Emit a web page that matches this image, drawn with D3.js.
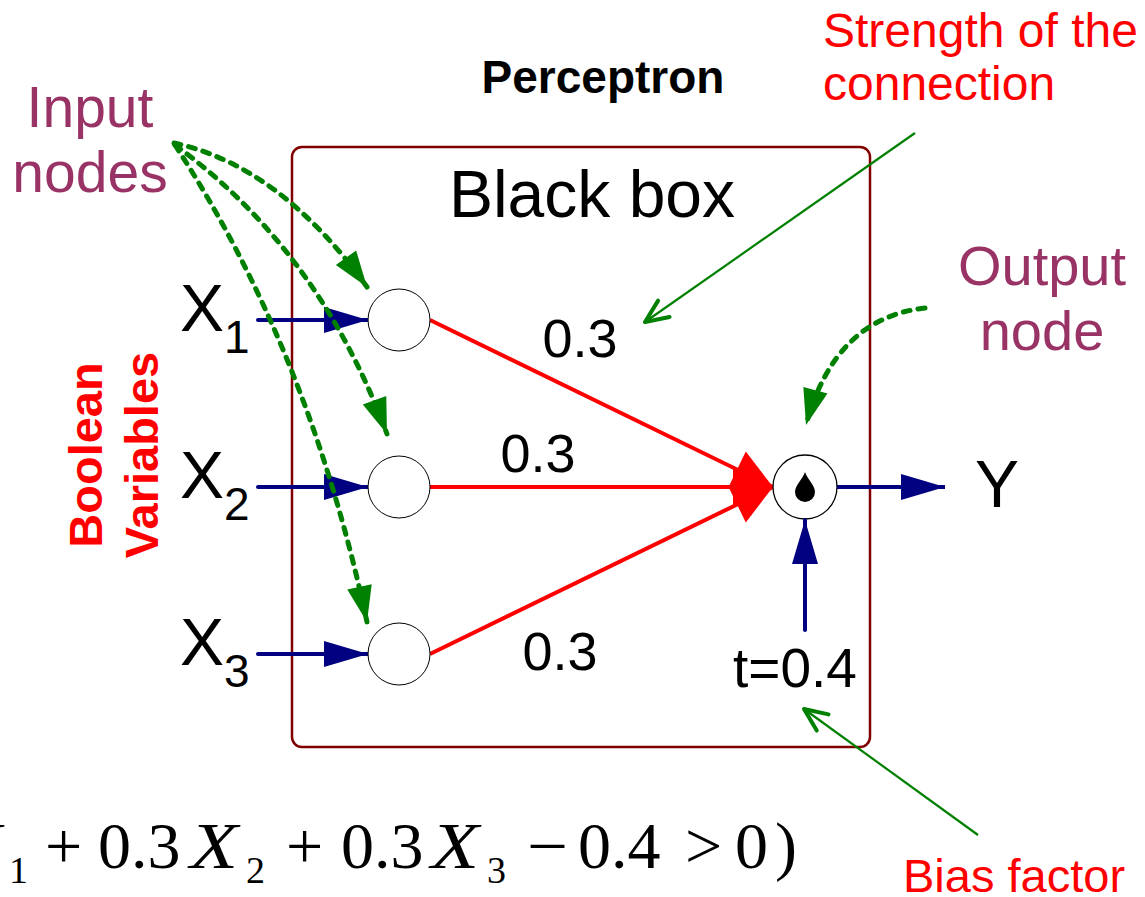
<!DOCTYPE html>
<html>
<head>
<meta charset="utf-8">
<script src="https://cdn.jsdelivr.net/npm/d3@7.9.0/dist/d3.min.js"></script>
<style>
  body { margin: 0; background: #fff; }
  svg { display: block; font-family: "Liberation Sans", Arial, sans-serif; }
</style>
</head>
<body>
<div id="chart"></div>
<script>
// diagram values
const inputs = ['X1', 'X2', 'X3'];
const weights = [0.3, 0.3, 0.3];
const threshold = 0.4;
const outputName = 'Y';
const formulaTokens = [
  { text: 'Y = I(0.3', kind: 'tail' },
  { text: 'X', kind: 'var' }, { text: '1', kind: 'sub' },
  { text: '+', kind: 'op' }, { text: '0.3', kind: 'num' },
  { text: 'X', kind: 'var' }, { text: '2', kind: 'sub' },
  { text: '+', kind: 'op' }, { text: '0.3', kind: 'num' },
  { text: 'X', kind: 'var' }, { text: '3', kind: 'sub' },
  { text: '\u2212', kind: 'minus' }, { text: '0.4', kind: 'num' },
  { text: '>', kind: 'op' }, { text: '0', kind: 'num' }, { text: ')', kind: 'num' }
];

const width = 1145;
const height = 897;

const svg = d3.select('#chart')
  .append('svg')
  .attr('width', width)
  .attr('height', height)
  .attr('viewBox', `0 0 ${width} ${height}`);

// layout
const y = d3.scalePoint().domain(inputs).range([320, 654]);
const inX = 399, nodeR = 31;
const outX = 805, outY = y(inputs[1]), outR = 32;
const box = { x: 292, y: 147, w: 578, h: 600 };

const navy = '#000080', red = '#ff0000', green = '#008000', plum = '#993366';

// markers
const defs = svg.append('defs');
function marker(id, d, refX, fill, stroke) {
  const m = defs.append('marker')
    .attr('id', id)
    .attr('markerUnits', 'userSpaceOnUse')
    .attr('orient', 'auto')
    .attr('refX', refX).attr('refY', 0)
    .attr('markerWidth', 1).attr('markerHeight', 1)
    .style('overflow', 'visible');
  m.append('path').attr('d', d)
    .attr('fill', fill)
    .attr('stroke', stroke || 'none')
    .attr('stroke-width', stroke ? 4 : 0)
    .attr('stroke-linecap', 'round')
    .attr('stroke-linejoin', 'round');
}
marker('navyHead', 'M0,-13L44,0L0,13Z', 44, navy);
marker('redHead', 'M0,-20L40,0L0,20Z', 40, red);
marker('greenHead', 'M0,-12.5L36,0L0,12.5Z', 36, green);
marker('greenOpen', 'M-23,-10L0,0L-23,10', 0, 'none', green);

// black box
svg.append('rect')
  .attr('x', box.x).attr('y', box.y)
  .attr('width', box.w).attr('height', box.h)
  .attr('rx', 10)
  .attr('fill', 'none')
  .attr('stroke', '#800000')
  .attr('stroke-width', 2.5);

svg.append('text').attr('x', 603).attr('y', 93)
  .attr('text-anchor', 'middle').attr('font-size', 46).attr('font-weight', 'bold')
  .text('Perceptron');
svg.append('text').attr('x', 592).attr('y', 217)
  .attr('text-anchor', 'middle').attr('font-size', 66)
  .text('Black box');

// weighted connections
const wLabel = [
  { dx: 181, dy: 37 },
  { dx: 139, dy: -15 },
  { dx: 161, dy: 16 }
];
svg.append('g').selectAll('line')
  .data(inputs)
  .join('line')
  .attr('x1', inX + nodeR)
  .attr('y1', d => y(d))
  .attr('x2', outX - outR)
  .attr('y2', outY)
  .attr('stroke', red)
  .attr('stroke-width', 4)
  .attr('marker-end', 'url(#redHead)');

svg.append('g').selectAll('text')
  .data(weights)
  .join('text')
  .attr('x', (d, i) => inX + wLabel[i].dx)
  .attr('y', (d, i) => y(inputs[i]) + wLabel[i].dy)
  .attr('text-anchor', 'middle')
  .attr('font-size', 54)
  .text(d => d.toFixed(1));

// input arrows and nodes
svg.append('g').selectAll('line')
  .data(inputs)
  .join('line')
  .attr('x1', 258).attr('x2', inX - nodeR)
  .attr('y1', d => y(d)).attr('y2', d => y(d))
  .attr('stroke', navy).attr('stroke-width', 4)
  .attr('stroke-linecap', 'round')
  .attr('marker-end', 'url(#navyHead)');

svg.append('g').selectAll('circle')
  .data(inputs)
  .join('circle')
  .attr('cx', inX).attr('cy', d => y(d)).attr('r', nodeR)
  .attr('fill', '#fff').attr('stroke', '#000').attr('stroke-width', 1);

const xl = svg.append('g').selectAll('text')
  .data(inputs)
  .join('text')
  .attr('x', 180)
  .attr('y', d => y(d) + 11)
  .attr('font-size', 66);
xl.append('tspan').text(d => d[0]);
xl.append('tspan').attr('font-size', 46).attr('dy', 22).text(d => d.slice(1));

// output node
svg.append('circle')
  .attr('cx', outX).attr('cy', outY).attr('r', outR)
  .attr('fill', '#fff').attr('stroke', '#000').attr('stroke-width', 1.3);
svg.append('path')
  .attr('transform', `translate(${outX},${outY})`)
  .attr('d', 'M0,-15C2,-8 10,-2 10,5A10,10 0 1,1 -10,5C-10,-2 -2,-8 0,-15Z')
  .attr('fill', '#000');

svg.append('line')
  .attr('x1', outX + outR).attr('x2', 945)
  .attr('y1', outY).attr('y2', outY)
  .attr('stroke', navy).attr('stroke-width', 4)
  .attr('marker-end', 'url(#navyHead)');
svg.append('text').attr('x', 975).attr('y', 507)
  .attr('font-size', 66).text(outputName);

// bias
svg.append('line')
  .attr('x1', outX).attr('x2', outX)
  .attr('y1', 630).attr('y2', outY + outR + 1)
  .attr('stroke', navy).attr('stroke-width', 4)
  .attr('stroke-linecap', 'round')
  .attr('marker-end', 'url(#navyHead)');
svg.append('text').attr('x', 795).attr('y', 687)
  .attr('text-anchor', 'middle').attr('font-size', 55)
  .text('t=' + threshold);

// side labels
svg.append('text').attr('x', 90).attr('text-anchor', 'middle')
  .attr('font-size', 57).attr('fill', plum)
  .selectAll('tspan').data(['Input', 'nodes']).join('tspan')
  .attr('x', 90).attr('y', (d, i) => 127 + i * 65).text(d => d);

svg.append('text').attr('font-size', 48).attr('fill', red)
  .selectAll('tspan').data(['Strength of the', 'connection']).join('tspan')
  .attr('x', 823).attr('y', (d, i) => 47 + i * 53).text(d => d);

svg.append('text').attr('text-anchor', 'middle')
  .attr('font-size', 56).attr('fill', plum)
  .selectAll('tspan').data(['Output', 'node']).join('tspan')
  .attr('x', 1042).attr('y', (d, i) => 285 + i * 65).text(d => d);

svg.append('text').attr('x', 903).attr('y', 892)
  .attr('font-size', 47).attr('fill', red).text('Bias factor');

svg.append('g').attr('transform', 'translate(0,455) rotate(-90)')
  .selectAll('text').data(['Boolean', 'Variables']).join('text')
  .attr('x', 0).attr('y', (d, i) => 102 + i * 56)
  .attr('text-anchor', 'middle')
  .attr('font-size', 47).attr('font-weight', 'bold').attr('fill', red)
  .text(d => d);

// dashed pointers
const curve = (p0, c, p1) => `M${p0[0]},${p0[1]}Q${c[0]},${c[1]} ${p1[0]},${p1[1]}`;
const dashed = [
  [[174, 143], [280, 166], [367, 287]],
  [[175, 145], [319, 250], [387, 434]],
  [[175, 145], [309, 350], [367, 622]],
  [[925, 308], [835, 318], [806, 425]]
];
svg.append('g').selectAll('path')
  .data(dashed)
  .join('path')
  .attr('d', d => curve(...d))
  .attr('fill', 'none')
  .attr('stroke', green)
  .attr('stroke-width', 5)
  .attr('stroke-dasharray', '7 8')
  .attr('stroke-linecap', 'round')
  .attr('marker-end', 'url(#greenHead)');

// solid pointers
const pointers = [
  [[915, 133], [645, 322]],
  [[978, 835], [804, 709]]
];
svg.append('g').selectAll('line')
  .data(pointers)
  .join('line')
  .attr('x1', d => d[0][0]).attr('y1', d => d[0][1])
  .attr('x2', d => d[1][0]).attr('y2', d => d[1][1])
  .attr('stroke', green).attr('stroke-width', 2.2)
  .attr('marker-end', 'url(#greenOpen)');

// formula, cut at the left edge
const fx = [-46, -46, 9, 45, 98, 190, 246, 286, 341, 431, 487, 527, 578, 685, 735, 775];
const formula = svg.append('g')
  .attr('font-family', '"Liberation Serif", "Times New Roman", serif');
formula.selectAll('text')
  .data(formulaTokens)
  .join('text')
  .attr('x', (d, i) => fx[i])
  .attr('y', d => d.kind === 'sub' ? 883 : 868)
  .attr('text-anchor', d => d.kind === 'tail' ? 'end' : 'start')
  .attr('font-size', d => d.kind === 'sub' ? 38 : 66)
  .attr('font-style', d => d.kind === 'var' ? 'italic' : null)
  .attr('textLength', d => d.kind === 'var' ? 48 : d.kind === 'minus' ? 41 : null)
  .attr('lengthAdjust', d => d.kind === 'var' || d.kind === 'minus' ? 'spacingAndGlyphs' : null)
  .text(d => d.text);
</script>
</body>
</html>
